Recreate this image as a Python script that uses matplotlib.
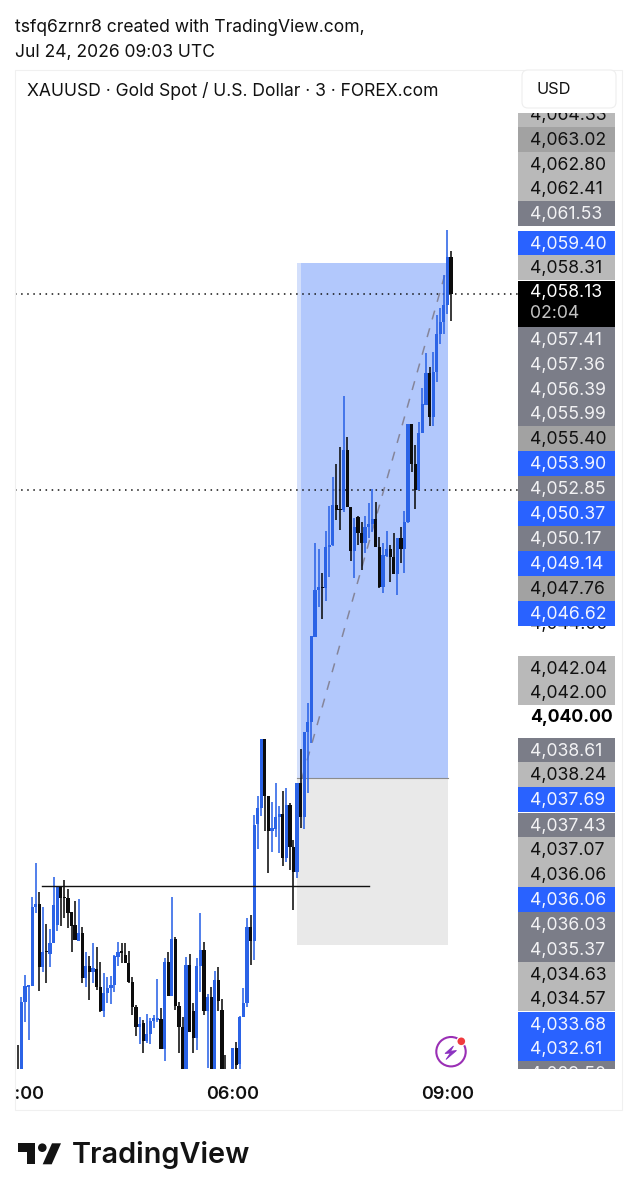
import numpy as np
import matplotlib
matplotlib.use("Agg")
import matplotlib.pyplot as plt
from matplotlib.patches import Rectangle, Polygon, Circle, FancyBboxPatch
from matplotlib.transforms import Bbox

plt.rcParams['font.family'] = ['Inter', 'Liberation Sans', 'DejaVu Sans']

# 3 minute XAUUSD candles, oldest first
opens = [4027.47, 4024.70, 4024.30, 4027.72, 4028.37, 4028.41, 4031.80, 4031.93, 4029.23, 4029.91,
         4029.79, 4030.26, 4031.03, 4032.66, 4032.23, 4032.19, 4031.59, 4031.03, 4030.34, 4030.69,
         4028.75, 4029.27, 4029.01, 4029.14, 4028.37, 4027.34, 4028.11, 4028.33, 4028.45, 4029.66,
         4029.91, 4029.74, 4029.40, 4028.58, 4027.51, 4026.65, 4026.82, 4026.05, 4026.35, 4026.91,
         4026.95, 4027.00, 4025.71, 4029.44, 4027.98, 4030.43, 4027.55, 4026.65, 4024.30, 4029.31,
         4027.34, 4026.18, 4029.27, 4029.96, 4027.34, 4027.94, 4024.30, 4028.67, 4027.38, 4024.80,
         4024.20, 4024.30, 4025.75, 4025.06, 4027.08, 4027.68, 4030.94, 4030.34, 4035.36, 4036.05,
         4039.01, 4036.57, 4035.06, 4035.15, 4035.67, 4035.79, 4033.91, 4036.18, 4034.38, 4033.30,
         4037.12, 4035.67, 4039.31, 4039.74, 4043.39, 4045.41, 4045.54, 4045.49, 4047.25, 4047.34,
         4049.06, 4048.88, 4048.84, 4051.42, 4048.97, 4047.08, 4048.54, 4047.85, 4047.43, 4048.11,
         4048.24, 4048.46, 4047.25, 4045.54, 4046.87, 4047.17, 4046.82, 4046.09, 4047.64, 4047.17,
         4048.33, 4052.53, 4050.82, 4049.70, 4052.15, 4053.35, 4054.72, 4052.83, 4054.76, 4056.40,
         4056.91, 4057.64, 4059.70]
highs = [4027.47, 4025.88, 4027.94, 4028.88, 4028.45, 4032.23, 4033.69, 4032.45, 4031.80, 4031.07,
         4030.86, 4033.09, 4032.70, 4032.70, 4032.96, 4032.57, 4031.59, 4032.06, 4032.15, 4030.94,
         4029.87, 4029.70, 4030.26, 4030.09, 4029.44, 4028.97, 4028.80, 4028.84, 4029.74, 4030.30,
         4030.26, 4030.26, 4029.91, 4028.80, 4027.60, 4027.08, 4026.95, 4027.21, 4027.04, 4027.17,
         4028.71, 4027.47, 4029.61, 4029.87, 4032.23, 4030.51, 4027.72, 4027.08, 4029.66, 4029.79,
         4027.68, 4029.61, 4031.54, 4030.30, 4028.07, 4028.37, 4029.06, 4029.23, 4027.85, 4025.45,
         4024.70, 4025.75, 4026.01, 4027.12, 4028.33, 4031.33, 4031.46, 4035.75, 4036.57, 4039.01,
         4039.01, 4036.57, 4036.31, 4037.12, 4036.14, 4036.78, 4036.91, 4036.27, 4034.68, 4037.12,
         4038.58, 4039.31, 4040.56, 4043.43, 4047.43, 4047.17, 4046.14, 4047.94, 4049.01, 4050.26,
         4050.82, 4051.55, 4053.73, 4051.97, 4048.97, 4048.50, 4048.58, 4048.33, 4048.58, 4049.14,
         4049.74, 4049.18, 4047.68, 4047.43, 4047.94, 4047.34, 4047.85, 4047.64, 4048.11, 4048.80,
         4052.53, 4052.53, 4051.63, 4052.62, 4054.08, 4055.58, 4054.98, 4055.62, 4057.21, 4057.51,
         4058.93, 4060.86, 4059.96]
lows = [4024.00, 4024.00, 4024.00, 4026.87, 4026.09, 4028.41, 4031.54, 4028.20, 4029.01, 4028.54,
        4029.23, 4030.26, 4030.77, 4030.99, 4031.33, 4030.90, 4029.87, 4030.39, 4030.34, 4028.54,
        4028.37, 4027.81, 4028.54, 4028.24, 4027.30, 4027.08, 4027.68, 4027.64, 4028.15, 4029.27,
        4029.40, 4029.40, 4028.54, 4027.17, 4026.27, 4025.92, 4025.54, 4025.97, 4025.92, 4026.61,
        4026.87, 4025.71, 4025.19, 4027.98, 4027.98, 4027.38, 4025.54, 4024.00, 4024.00, 4026.44,
        4025.54, 4025.66, 4028.15, 4027.17, 4024.89, 4024.00, 4024.00, 4027.34, 4024.00, 4024.00,
        4024.00, 4024.00, 4024.50, 4024.60, 4027.08, 4027.51, 4029.31, 4029.53, 4034.29, 4035.71,
        4035.06, 4033.26, 4034.16, 4034.81, 4034.12, 4033.56, 4033.73, 4033.39, 4031.67, 4033.05,
        4035.19, 4035.15, 4036.70, 4038.84, 4043.39, 4044.68, 4044.16, 4044.94, 4045.97, 4047.30,
        4048.41, 4047.98, 4048.76, 4048.97, 4046.65, 4045.92, 4047.34, 4046.27, 4047.00, 4047.64,
        4047.90, 4047.25, 4045.49, 4045.28, 4046.82, 4045.75, 4046.09, 4045.19, 4046.57, 4046.14,
        4048.28, 4050.47, 4048.88, 4049.70, 4052.15, 4053.35, 4052.45, 4052.45, 4054.34, 4055.97,
        4056.40, 4057.25, 4056.95]
closes = [4024.20, 4024.20, 4027.72, 4028.41, 4028.45, 4031.80, 4031.93, 4029.23, 4029.87, 4029.87,
          4030.26, 4031.89, 4032.66, 4032.19, 4032.19, 4031.54, 4030.99, 4030.39, 4030.69, 4028.75,
          4029.27, 4029.01, 4029.18, 4028.37, 4027.34, 4028.11, 4028.33, 4028.45, 4029.70, 4029.87,
          4029.83, 4029.40, 4028.58, 4027.51, 4026.65, 4026.78, 4026.05, 4026.35, 4026.91, 4027.04,
          4027.04, 4025.71, 4029.44, 4027.98, 4030.43, 4027.55, 4026.65, 4024.30, 4029.31, 4026.44,
          4026.18, 4029.27, 4029.96, 4027.34, 4027.94, 4024.30, 4028.67, 4027.77, 4024.30, 4024.30,
          4024.60, 4025.75, 4025.02, 4027.08, 4027.68, 4030.94, 4030.34, 4035.32, 4036.05, 4039.01,
          4036.57, 4035.06, 4035.19, 4035.67, 4035.79, 4033.91, 4036.18, 4034.38, 4033.30, 4037.12,
          4035.67, 4039.31, 4039.74, 4043.43, 4045.41, 4045.54, 4045.49, 4047.25, 4047.34, 4049.06,
          4048.84, 4048.84, 4051.42, 4048.97, 4047.08, 4048.11, 4047.85, 4047.43, 4048.11, 4048.24,
          4048.46, 4047.25, 4045.54, 4046.91, 4047.17, 4046.82, 4046.09, 4047.64, 4047.17, 4048.33,
          4052.53, 4050.82, 4049.70, 4052.15, 4053.39, 4054.72, 4052.83, 4054.76, 4056.40, 4056.91,
          4057.64, 4059.70, 4058.13]

# long position drawing and the lines on the chart
pos_start = 79
pos_end = 121.2
pos_entry = 4037.34
pos_target = 4059.44
pos_stop = 4030.17
level_price = 4032.70
level_from = 7.75
level_to = 99.1
dotted_prices = [4058.13, 4049.70]

tick_pos = [1, 61, 121]
tick_labels = ["03:00", "06:00", "09:00"]

# price scale tags, top to bottom
tag_text = ["4,064.33", "4,063.02", "4,062.80", "4,062.41", "4,061.53", "4,059.40", "4,058.31",
            "4,057.41", "4,057.36", "4,056.39", "4,055.99", "4,055.40", "4,053.90", "4,052.85",
            "4,050.37", "4,050.17", "4,049.14", "4,047.76", "4,046.62", "4,042.04", "4,042.00",
            "4,038.61", "4,038.24", "4,037.69", "4,037.43", "4,037.07", "4,036.06", "4,036.06",
            "4,036.03", "4,035.37", "4,034.63", "4,034.57", "4,033.68", "4,032.61", "4,029.50"]
tag_kind = ["light", "mid", "light", "light", "slate", "blue", "light",
            "slate", "slate", "slate", "slate", "mid", "blue", "slate",
            "blue", "slate", "blue", "mid", "blue", "light", "light",
            "slate", "light", "blue", "slate", "light", "light", "blue",
            "slate", "slate", "light", "light", "blue", "blue", "slate"]
tag_rows = [114, 139, 164, 188, 213, 243, 267,
            339, 364, 389, 413, 438, 463, 488,
            513, 538, 563, 588, 613, 668, 692,
            750, 774, 799, 825, 849, 874, 899,
            924, 949, 974, 998, 1024, 1048, 1073]
tag_fill = {"light": "#b9b9b9", "mid": "#a2a2a2", "slate": "#7b7d88", "blue": "#2962ff"}
tag_ink = {"light": "#111111", "mid": "#111111", "slate": "#f2f2f4", "blue": "#f2f5ff"}

up_color = "#2b63e6"
down_color = "#0c0c0c"

fig = plt.figure(figsize=(6.37, 11.99), dpi=100, facecolor="white")

# page level axes in pixel units for the frame, header, tags and logo
page = fig.add_axes([0, 0, 1, 1], zorder=3)
page.set_xlim(0, 637)
page.set_ylim(1199, 0)
page.axis("off")
page.patch.set_alpha(0)

# price chart, 23.3 px per dollar and 3.58 px per bar
ax = fig.add_axes([15 / 637, (1199 - 1069) / 1199, 503 / 637, 999 / 1199], zorder=2)
ax.set_xlim(0.21, 140.71)
ax.set_ylim(4024.85, 4067.73)
for s in ax.spines.values():
    s.set_visible(False)
ax.set_yticks([])
ax.patch.set_alpha(0)

# position boxes
ax.add_patch(Rectangle((pos_start, pos_entry), pos_end - pos_start, pos_target - pos_entry,
                       color="#b2c8fc", lw=0, zorder=1))
ax.add_patch(Rectangle((pos_start, pos_entry), 1, pos_target - pos_entry,
                       color="#d3dffb", lw=0, zorder=1.1))
ax.add_patch(Rectangle((pos_start, pos_stop), pos_end - pos_start, pos_entry - pos_stop,
                       color="#e9e9e9", lw=0, zorder=1))
ax.plot([pos_start, pos_end], [pos_entry, pos_entry], color="#8c8c8c", lw=0.8, zorder=1.2)
ax.plot([pos_start + 1.4, pos_end], [pos_entry, pos_target], color="#85859a", lw=1.1,
        ls=(0, (6, 6)), zorder=1.3)

for p in dotted_prices:
    ax.plot([0.21, 140.71], [p, p], color="#111111", lw=1.1, ls=(0, (1, 3.0)), zorder=1.4)

# candles
x = np.arange(len(closes))
o = np.array(opens)
h = np.array(highs)
l = np.array(lows)
c = np.array(closes)
colors = [up_color if b >= a else down_color for a, b in zip(o, c)]
ax.vlines(x, l, h, colors=colors, lw=1.15, zorder=2)
ax.bar(x, np.maximum(np.abs(c - o), 0.05), bottom=np.minimum(o, c), width=0.9,
       color=colors, lw=0, zorder=2.1)

ax.plot([level_from, level_to], [level_price, level_price], color="#111111", lw=1.0, zorder=3)

# time axis, the left label runs off the chart edge
ax.set_xticks(tick_pos, tick_labels)
ax.tick_params(axis="x", length=0, pad=12.5, labelsize=13)
for lbl in ax.get_xticklabels():
    lbl.set_fontweight("semibold")
    lbl.set_color("#111111")
    lbl.set_clip_on(True)
    lbl.set_clip_box(Bbox([[15, 0], [637, 1199]]))

# outer frame of the chart
page.add_patch(Rectangle((15, 70), 607, 1040, fill=False, ec="#f0f0f0", lw=0.8))

# header text
page.text(15, 27, "tsfq6zrnr8 created with TradingView.com,", fontsize=12.6, color="#111111", va="center")
page.text(15, 52, "Jul 24, 2026 09:03 UTC", fontsize=12.6, color="#111111", va="center")
page.text(27, 91.5, "XAUUSD · Gold Spot / U.S. Dollar · 3 · FOREX.com", fontsize=12.6, color="#111111", va="center")

page.add_patch(FancyBboxPatch((526, 74), 86, 30, boxstyle="round,pad=4,rounding_size=6",
                              fc="white", ec="#eeeeee", lw=0.8))
page.text(536, 89.5, "USD", fontsize=11.8, color="#111111", va="center")

# price scale tags, clipped to the visible scale height
scale_clip = Bbox([[518, 1199 - 1069], [615, 1199 - 113]])
tag_font = 12.7
under = page.text(530, 624, "4,044.00", fontsize=tag_font, color="#111111", va="center", zorder=1)
under.set_clip_on(True)
under.set_clip_box(scale_clip)
for txt, kind, row in zip(tag_text, tag_kind, tag_rows):
    r = Rectangle((518, row - 12.5), 97, 25, fc=tag_fill[kind], ec="none", zorder=2)
    page.add_patch(r)
    r.set_clip_box(scale_clip)
    r.set_clip_on(True)
    t = page.text(530, row + 1.5, txt, fontsize=tag_font, color=tag_ink[kind], va="center", zorder=3)
    t.set_clip_on(True)
    t.set_clip_box(scale_clip)

# last price tag with the bar countdown
page.add_patch(Rectangle((518, 281), 97, 46, fc="#000000", ec="none", zorder=4))
page.text(530, 293, "4,058.13", fontsize=tag_font, color="white", va="center", zorder=5)
page.text(530, 314, "02:04", fontsize=tag_font, color="#c4c4c4", va="center", zorder=5)
page.text(530, 717, "4,040.00", fontsize=tag_font, fontweight="bold", color="#000000", va="center", zorder=5)

# alert icon
page.add_patch(Circle((451, 1051.7), 14.7, fill=False, ec="#9a2fb5", lw=1.5))
page.add_patch(Polygon([(453.5, 1046), (445, 1053.5), (450.5, 1053), (446, 1059.5), (456.5, 1050.5), (450.5, 1051.3)],
                       closed=True, fc="#8a30c0", ec="#8a30c0", lw=0.6))
page.add_patch(Circle((461.3, 1041.3), 5, fc="white", ec="none"))
page.add_patch(Circle((461.3, 1041.3), 3.8, fc="#f03a3e", ec="none"))

# logo mark and wordmark
page.add_patch(Polygon([(17.7, 1143.3), (35, 1143.3), (35, 1164.3), (26.7, 1164.3), (26.7, 1151.7), (17.7, 1151.7)],
                       closed=True, fc="#131313", ec="none"))
page.add_patch(Circle((42.3, 1147.7), 4.3, fc="#131313", ec="none"))
page.add_patch(Polygon([(52, 1143.3), (61, 1143.3), (51.7, 1164.3), (42.7, 1164.3)],
                       closed=True, fc="#131313", ec="none"))
page.text(72, 1155, "TradingView", fontsize=20.8, fontweight="semibold", color="#131313", va="center")

fig.savefig("out.png", dpi=100)
